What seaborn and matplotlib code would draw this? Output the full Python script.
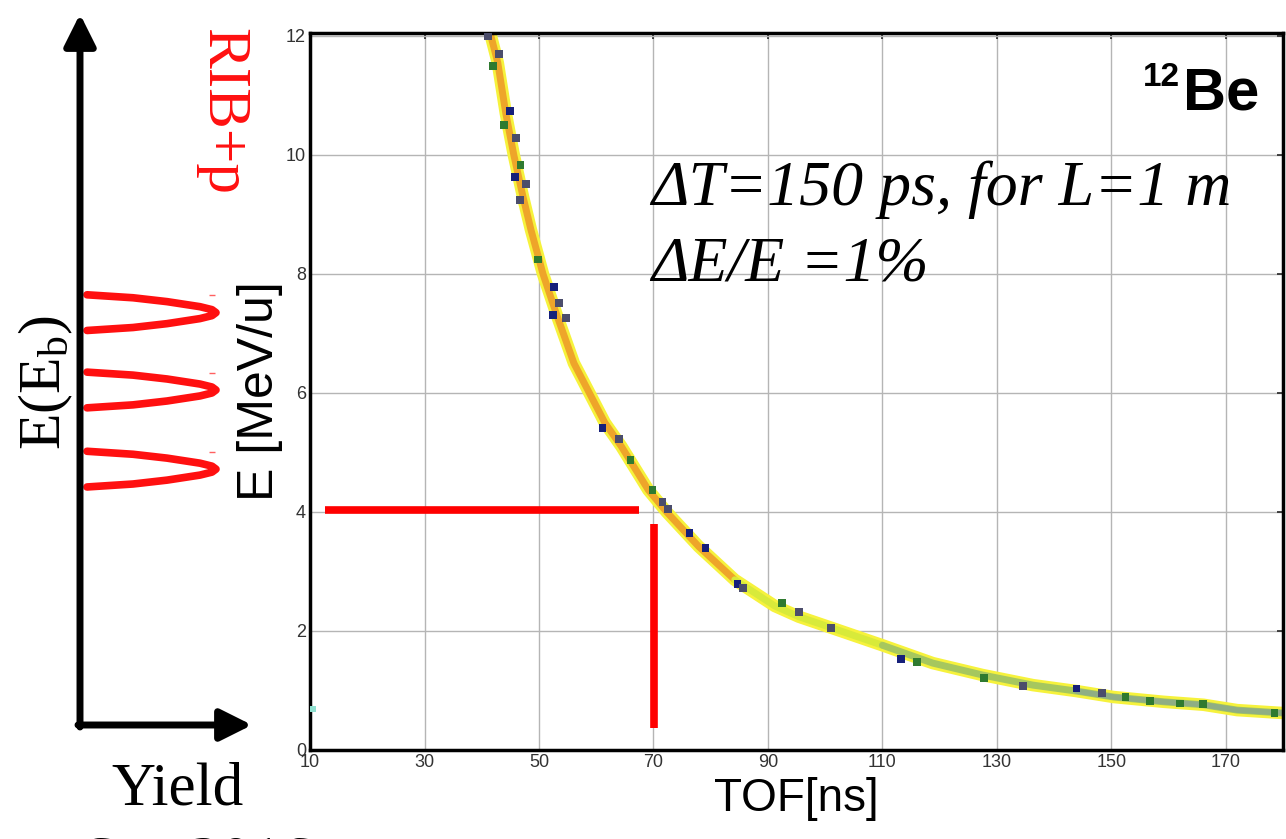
import numpy as np
import pandas as pd
import seaborn as sns
import matplotlib.pyplot as plt

# TOF vs energy ridge
tof = [41.6, 42.8, 44.2, 45.6, 47.2, 48.6, 50.7, 53.0, 56.1, 58.8, 61.5, 64.4,
       69.1, 72.3, 77.9, 84.2, 91.2, 95.4, 101.2, 110.0, 118.8, 127.5, 136.3,
       143.9, 150.4, 159.1, 166.1, 172.0, 180.2]
energy = [12.0, 11.55, 10.7, 10.0, 9.3, 8.74, 8.0, 7.34, 6.5, 6.0, 5.5, 5.1,
          4.37, 4.0, 3.42, 2.86, 2.42, 2.24, 2.05, 1.76, 1.46, 1.26, 1.09,
          0.99, 0.89, 0.81, 0.76, 0.67, 0.62]

# dark "hot" bins on the ridge (0 navy, 1 slate, 2 green)
hot_tof = [41.1, 43.0, 42.0, 44.9, 43.9, 46.0, 46.8, 45.8, 47.7, 46.7, 49.8, 52.6,
           53.5, 52.5, 54.7, 61.1, 64.0, 66.0, 69.8, 71.6, 72.5, 76.3, 79.1,
           84.7, 85.6, 92.5, 95.4, 101.0, 113.2, 116.0, 127.7, 134.6, 143.9,
           148.4, 152.5, 156.8, 162.0, 166.0, 178.5]
hot_e = [12.0, 11.7, 11.5, 10.74, 10.5, 10.29, 9.83, 9.63, 9.51, 9.24, 8.24, 7.78,
         7.51, 7.31, 7.26, 5.41, 5.23, 4.87, 4.37, 4.17, 4.05, 3.65, 3.39,
         2.79, 2.72, 2.47, 2.32, 2.05, 1.53, 1.48, 1.21, 1.08, 1.03,
         0.96, 0.89, 0.82, 0.78, 0.77, 0.62]
hot_kind = [1, 1, 2, 0, 2, 1, 2, 0, 1, 1, 2, 0,
            1, 0, 1, 0, 1, 2, 2, 1, 1, 0, 0,
            0, 1, 2, 1, 1, 0, 2, 2, 1, 0,
            1, 2, 2, 2, 2, 2]

# red selection lines
cut_tof = [12.6, 67.5]
cut_e = 4.03
gate_tof = 70.1
gate_e = [0.37, 3.80]

# schematic yield peaks on the left panel
peak_centres = [7.35, 6.05, 4.72]
peak_offsets = [-0.30, -0.25, -0.185, -0.10, -0.05, 0.0, 0.05, 0.10, 0.185, 0.25, 0.30]
peak_yield = [87, 133, 167, 200, 212, 216, 212, 200, 167, 133, 87]

x_ticks = [10, 30, 50, 70, 90, 110, 130, 150, 170]
y_ticks = [0, 2, 4, 6, 8, 10, 12]

sns.set_theme(style='white')
plt.rcParams['font.family'] = ['Liberation Sans', 'DejaVu Sans']
plt.rcParams['text.color'] = 'black'
plt.rcParams['axes.labelcolor'] = 'black'
plt.rcParams['mathtext.fontset'] = 'custom'
plt.rcParams['mathtext.rm'] = 'Liberation Serif'
plt.rcParams['mathtext.it'] = 'Liberation Serif:italic'

fig = plt.figure(figsize=(12.86, 8.39), dpi=100)
ax = fig.add_axes([0.2411, 0.1061, 0.7566, 0.8546])

ridge = pd.DataFrame({'tof': tof, 'E': energy})
sns.lineplot(data=ridge, x='tof', y='E', sort=False, estimator=None, ax=ax,
             color='#f6f23c', lw=9, solid_capstyle='butt')
steep = ridge[ridge['E'] >= 2.7]
sns.lineplot(data=steep, x='tof', y='E', sort=False, estimator=None, ax=ax,
             color='#eea52a', lw=5)
mid = ridge[(ridge['tof'] >= 84) & (ridge['tof'] <= 112)]
sns.lineplot(data=mid, x='tof', y='E', sort=False, estimator=None, ax=ax,
             color='#d8ea3a', lw=5)
tail = ridge[ridge['tof'] >= 110]
sns.lineplot(data=tail, x='tof', y='E', sort=False, estimator=None, ax=ax,
             color='#a6c75e', lw=5)
far = ridge[ridge['tof'] >= 140]
sns.lineplot(data=far, x='tof', y='E', sort=False, estimator=None, ax=ax,
             color='#8fae84', lw=4)

hot = pd.DataFrame({'tof': hot_tof, 'E': hot_e, 'kind': hot_kind})
sns.scatterplot(data=hot, x='tof', y='E', hue='kind', ax=ax, marker='s', s=30,
                linewidth=0, palette={0: '#16207a', 1: '#4b4d6b', 2: '#2f7a30'},
                legend=False, zorder=4)
ax.scatter([10.5], [0.69], marker='s', s=20, color='#8fe0d0', lw=0, zorder=4)

ax.plot(cut_tof, [cut_e, cut_e], color='#ff0000', lw=5.5, solid_capstyle='butt', zorder=5)
ax.plot([gate_tof, gate_tof], gate_e, color='#ff0000', lw=5.5, solid_capstyle='butt', zorder=5)

ax.set_xlim(10, 180)
ax.set_ylim(0, 12.05)
ax.set_xticks(x_ticks)
ax.set_yticks(y_ticks)
ax.grid(True, color='#b5b5b5', lw=1)
ax.tick_params(direction='in', length=4, width=1.2, top=True, right=True,
               labelsize=13, labelcolor='#333333', pad=3)
for s in ax.spines.values():
    s.set_color('black')
    s.set_linewidth(2.5)
ax.set_xlabel('TOF[ns]', fontsize=33, labelpad=4)
ax.set_ylabel('E [MeV/u]', fontsize=36, labelpad=2)

ax.text(0.351, 0.781, 'ΔT=150 ps, for L=1 m', transform=ax.transAxes,
        family='Liberation Serif', style='italic', fontsize=46, va='center')
ax.text(0.351, 0.676, 'ΔE/E =1%', transform=ax.transAxes,
        family='Liberation Serif', style='italic', fontsize=46, va='center')
fig.text(1183 / 1286, 1 - 110 / 839, 'Be', fontsize=43, weight='bold', va='baseline')
fig.text(1180 / 1286, 1 - 86 / 839, '12', fontsize=24, weight='bold', va='baseline', ha='right')

# left schematic panel
lax = fig.add_axes([0.0, 0.1061, 300 / 1286, 0.8546])
lax.set_xlim(0, 300)
lax.set_ylim(0, 12.05)
lax.axis('off')
for c in peak_centres:
    pk = pd.DataFrame({'y': peak_yield, 'E': [c + o for o in peak_offsets]})
    sns.lineplot(data=pk, x='y', y='E', sort=False, estimator=None, orient='y',
                 ax=lax, color='#ff1010', lw=5.5)
    lax.plot([212], [c + 0.29], marker='_', color='#ff6060', ms=5, mew=1)

arrow = dict(arrowstyle='-|>,head_length=1.6,head_width=0.8', lw=5, color='black',
             shrinkA=0, shrinkB=0)
lax.annotate('', xy=(80 / 1286, 1 - 14 / 839), xytext=(80 / 1286, 1 - 727 / 839),
             xycoords='figure fraction', arrowprops=arrow)
lax.annotate('', xy=(252 / 1286, 1 - 725 / 839), xytext=(78 / 1286, 1 - 725 / 839),
             xycoords='figure fraction', arrowprops=arrow)

fig.text(222 / 1286, 1 - 112 / 839, 'RIB+p', color='#ff1010', rotation=-90,
         family='Liberation Serif', fontsize=44, ha='center', va='center')
fig.text(46 / 1286, 1 - 383 / 839, r'E(E$_\mathrm{b}$)', rotation=90,
         family='Liberation Serif', fontsize=43, ha='center', va='center')
fig.text(178 / 1286, 1 - 790 / 839, 'Yield', family='Liberation Serif', fontsize=44,
         ha='center', va='center')
fig.text(83 / 1286, 1 - 878 / 839, 'Sep 2016', family='Liberation Serif', fontsize=44,
         ha='left', va='baseline')

fig.savefig('out.png', dpi=100)
